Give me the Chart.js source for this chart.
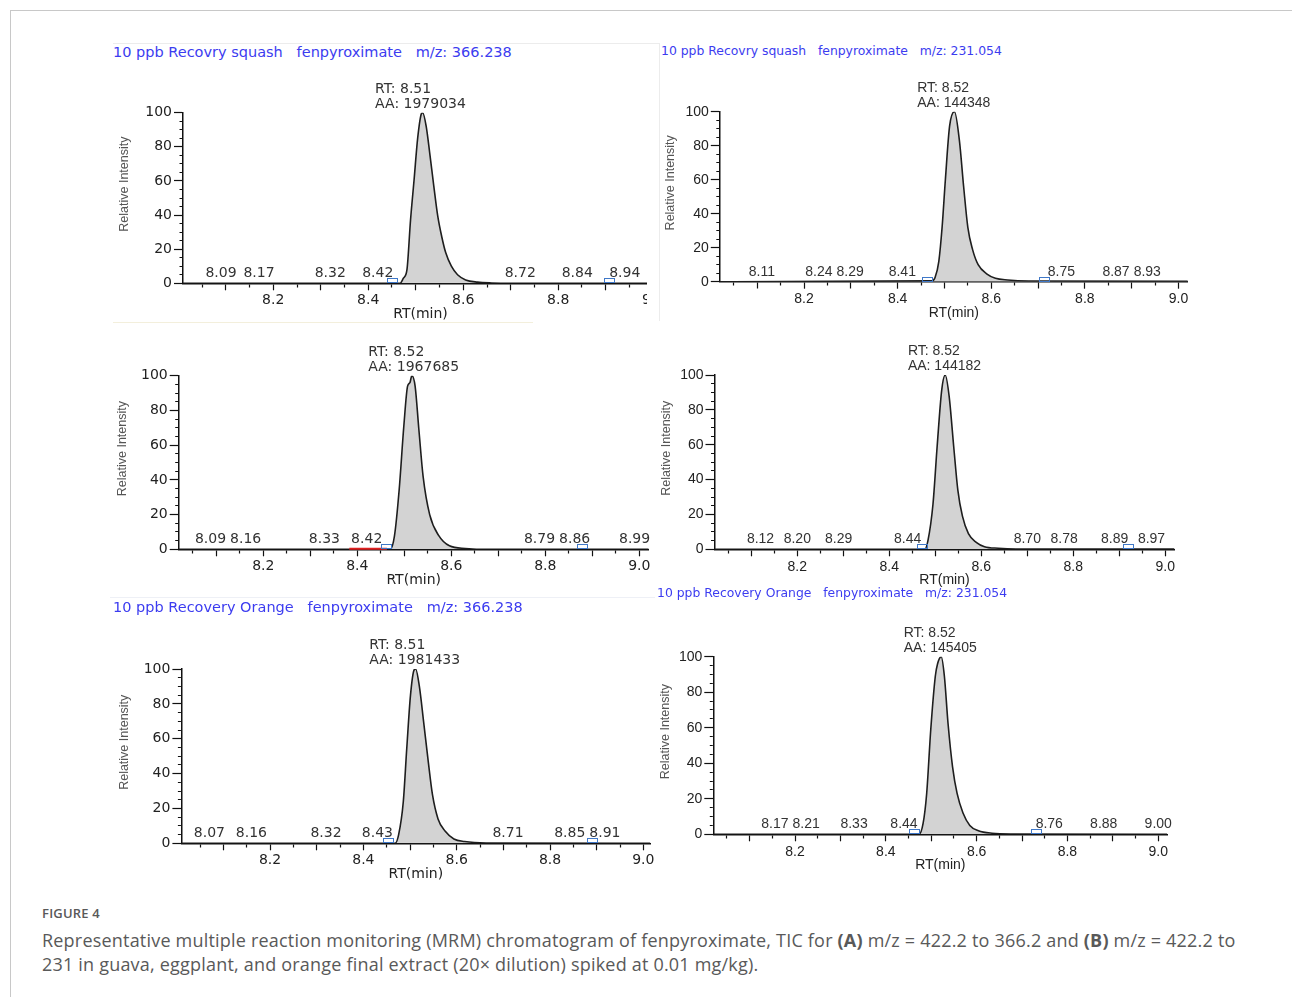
<!DOCTYPE html>
<html>
<head>
<meta charset="utf-8">
<script src="https://cdn.jsdelivr.net/npm/chart.js@4.4.1/dist/chart.umd.min.js"></script>
<style>
html,body{margin:0;padding:0;background:#fff;}
#page{position:relative;width:1292px;height:997px;overflow:hidden;background:#fff;}
.frame{position:absolute;left:10px;top:10px;width:1300px;height:1000px;border-top:1px solid #c8c8c8;border-left:1px solid #c8c8c8;}
.ttl{position:absolute;color:#3c3cf0;white-space:pre;line-height:1;font-family:'DejaVu Sans';}
.clip{position:absolute;left:0;top:0;overflow:hidden;}
.clip canvas{position:absolute;}
.faint{position:absolute;background:#ececec;}
.cap{position:absolute;left:42px;color:#595959;font-family:'Open Sans';white-space:nowrap;}
</style>
</head>
<body>
<div id="page">
<div class="frame"></div>
<div class="faint" style="left:113px;top:43px;width:547px;height:1px;"></div>
<div class="faint" style="left:659px;top:43px;width:1px;height:278px;"></div>
<div class="faint" style="left:113px;top:322px;width:420px;height:1px;background:#f3efdc;"></div>
<div class="faint" style="left:110px;top:597px;width:545px;height:1px;background:#eef0f6;"></div>
<div class="cap" style="top:905px;font-size:13px;line-height:16px;font-weight:600;letter-spacing:0.2px;">FIGURE 4</div>
<div class="cap" id="capText" style="top:928px;font-size:18px;line-height:24px;letter-spacing:0.2px;">Representative multiple reaction monitoring (MRM) chromatogram of fenpyroximate, TIC for <b>(A)</b> m/z = 422.2 to 366.2 and <b>(B)</b> m/z = 422.2 to<br>231 in guava, eggplant, and orange final extract (20× dilution) spiked at 0.01 mg/kg).</div>
</div>
<script>
// ---------------- data ----------------
const panelTitles = [
  '10 ppb Recovry squash   fenpyroximate   m/z: 366.238',
  '10 ppb Recovry squash   fenpyroximate   m/z: 231.054',
  '',
  '',
  '10 ppb Recovery Orange   fenpyroximate   m/z: 366.238',
  '10 ppb Recovery Orange   fenpyroximate   m/z: 231.054'
];
const xTickLabels = [8.2, 8.4, 8.6, 8.8, 9.0];
const yTickLabels = [0, 20, 40, 60, 80, 100];
const xMinorStep = 0.05;
const yMinorStep = 5;

// retention time (min) and relative intensity (%)
const squash366Rt  = [8.01, 8.467, 8.474, 8.4815, 8.489, 8.4966, 8.504, 8.512, 8.5145, 8.522, 8.530, 8.538, 8.546, 8.555, 8.563, 8.575, 8.588, 8.605, 8.630, 8.660, 8.700, 9.01];
const squash366Int = [0, 0, 3, 8, 37, 61, 85, 99.5, 100, 92, 75, 57, 40, 27, 18, 10, 5, 2, 0.7, 0.2, 0, 0];

const squash231Rt  = [8.02, 8.473, 8.480, 8.488, 8.495, 8.502, 8.511, 8.5215, 8.532, 8.541, 8.550, 8.560, 8.572, 8.591, 8.609, 8.635, 8.680, 9.02];
const squash231Int = [0, 0.5, 2.5, 12, 32, 60, 91.5, 100, 83, 56, 32, 19, 10, 4.5, 2, 1, 0.4, 0.2];

const middle366Rt  = [8.02, 8.470, 8.479, 8.489, 8.499, 8.507, 8.512, 8.516, 8.523, 8.531, 8.540, 8.554, 8.573, 8.596, 8.630, 8.680, 9.02];
const middle366Int = [0, 0, 7.6, 34, 71, 94, 96, 100, 94, 69, 42, 20, 8, 2, 0.5, 0, 0];

const middle231Rt  = [8.02, 8.477, 8.484, 8.495, 8.504, 8.514, 8.5215, 8.530, 8.540, 8.549, 8.559, 8.572, 8.589, 8.607, 8.637, 8.675, 9.02];
const middle231Int = [0, 0, 5, 26, 59, 91.5, 100, 88, 59, 34, 19, 9, 4, 1.5, 0.6, 0.2, 0.2];

const orange366Rt  = [8.01, 8.468, 8.4756, 8.4856, 8.493, 8.501, 8.5086, 8.512, 8.520, 8.529, 8.539, 8.548, 8.560, 8.575, 8.594, 8.617, 8.663, 9.015];
const orange366Int = [0, 0, 5, 24, 54.5, 85, 99.4, 100, 90, 70, 47, 28, 14, 7, 2.5, 1, 0.2, 0];

const orange231Rt  = [8.02, 8.473, 8.482, 8.490, 8.499, 8.509, 8.514, 8.522, 8.529, 8.537, 8.547, 8.557, 8.570, 8.585, 8.604, 8.634, 8.680, 9.02];
const orange231Int = [0, 0, 6, 23, 59, 89, 96, 100, 89, 62.5, 38, 23, 12, 5, 2, 0.6, 0.2, 0];

// main peak annotation
const peakRT   = [8.51, 8.52, 8.52, 8.52, 8.51, 8.52];
const peakArea = [1979034, 144348, 1967685, 144182, 1981433, 145405];

// small labelled baseline peaks
const squash366Labels = [8.09, 8.17, 8.32, 8.42, 8.72, 8.84, 8.94];
const squash231Labels = [8.11, 8.24, 8.29, 8.41, 8.75, 8.87, 8.93];
const middle366Labels = [8.09, 8.16, 8.33, 8.42, 8.79, 8.86, 8.99];
const middle231Labels = [8.12, 8.20, 8.29, 8.44, 8.70, 8.78, 8.89, 8.97];
const orange366Labels = [8.07, 8.16, 8.32, 8.43, 8.71, 8.85, 8.91];
const orange231Labels = [8.17, 8.21, 8.33, 8.44, 8.76, 8.88, 9.00];

// integration boundary markers
const squash366Bounds = [8.453, 8.908];
const squash231Bounds = [8.465, 8.714];
const middle366Bounds = [8.463, 8.880];
const middle231Bounds = [8.473, 8.921];
const orange366Bounds = [8.455, 8.893];
const orange231Bounds = [8.464, 8.734];
const middle366RedSegment = [8.383, 8.463];

const seriesRt  = [squash366Rt, squash231Rt, middle366Rt, middle231Rt, orange366Rt, orange231Rt];
const seriesInt = [squash366Int, squash231Int, middle366Int, middle231Int, orange366Int, orange231Int];
const seriesLabels = [squash366Labels, squash231Labels, middle366Labels, middle231Labels, orange366Labels, orange231Labels];
const seriesBounds = [squash366Bounds, squash231Bounds, middle366Bounds, middle231Bounds, orange366Bounds, orange231Bounds];
const seriesRed = [null, null, middle366RedSegment, null, null, null];
const xRanges = [[8.01, 9.01], [8.02, 9.02], [8.02, 9.02], [8.02, 9.02], [8.01, 9.015], [8.02, 9.02]];

// ---------------- layout (page pixels) ----------------
const geom = [
  {L:183.0, k:475,   T:112.7, B:283.3, yt:124,   clipR:647, clipB:997, style:'left',  tx:113, ty:45.1, tf:14.5},
  {L:719.8, k:468,   T:111.7, B:281.7, yt:670,   clipR:1292, clipB:997, style:'right', tx:661, ty:45.1, tf:12.4},
  {L:178.7, k:470,   T:375.7, B:549.3, yt:122,   clipR:1292, clipB:589, style:'left'},
  {L:714.5, k:460,   T:375.0, B:549.3, yt:666,   clipR:1292, clipB:997, style:'right'},
  {L:181.4, k:466.6, T:669.0, B:843.3, yt:124,   clipR:1292, clipB:997, style:'left',  tx:113, ty:600.1, tf:14.5},
  {L:713.3, k:454,   T:656.7, B:834.3, yt:665.5, clipR:1292, clipB:997, style:'right', tx:657, ty:587.1, tf:12.4}
];
const fonts = {
  left:  {family:"'DejaVu Sans'", size:14},
  right: {family:"'Liberation Sans'", size:14}
};
const yTitleFont = {family:"'Liberation Sans'", size:12.5};

function inList(v, list){ return list.some(m => Math.abs(m - v) < 1e-6); }
function buildTicks(min, max, step){
  const out = [];
  for (let k = Math.ceil(min/step - 1e-9); k*step <= max + 1e-9; k++) out.push({value: +(k*step).toFixed(4)});
  return out;
}

function makeAnnot(i){
  return {
    id: 'annot' + i,
    afterDatasetsDraw(chart){
      const {ctx} = chart;
      const x = chart.scales.x, y = chart.scales.y;
      const f = fonts[geom[i].style];
      const y0 = y.getPixelForValue(0);
      const yTop = y.getPixelForValue(100);
      ctx.save();
      const red = seriesRed[i];
      if (red){
        ctx.strokeStyle = '#e02020'; ctx.lineWidth = 2;
        ctx.beginPath(); ctx.moveTo(x.getPixelForValue(red[0]), y0 - 0.5); ctx.lineTo(x.getPixelForValue(red[1]), y0 - 0.5); ctx.stroke();
      }
      ctx.strokeStyle = '#3f78c8'; ctx.lineWidth = 1;
      seriesBounds[i].forEach(v => {
        const px = Math.round(x.getPixelForValue(v));
        ctx.strokeRect(px - 5.5, Math.round(y0) - 4.5, 10, 4);
      });
      ctx.font = f.size + 'px ' + f.family;
      ctx.fillStyle = '#333';
      ctx.textAlign = 'center';
      ctx.textBaseline = 'alphabetic';
      const labs = seriesLabels[i];
      const txt = labs.map(v => v.toFixed(2));
      const w = txt.map(t => ctx.measureText(t).width);
      const xs = labs.map(v => x.getPixelForValue(v));
      for (let j = 1; j < xs.length; j++){
        const need = (w[j-1] + w[j]) / 2 + 4;
        const gap = xs[j] - xs[j-1];
        if (gap < need){ const d = need - gap; xs[j-1] -= d/2; xs[j] += d/2; }
      }
      txt.forEach((t, j) => ctx.fillText(t, xs[j], y0 - 6));
      const l1 = 'RT: ' + peakRT[i].toFixed(2);
      const l2 = 'AA: ' + peakArea[i];
      const bw = Math.max(ctx.measureText(l1).width, ctx.measureText(l2).width);
      const x0 = x.getPixelForValue(peakRT[i]) - bw/2;
      ctx.textAlign = 'left';
      ctx.fillText(l1, x0, yTop - 20);
      ctx.fillText(l2, x0, yTop - 5);
      ctx.restore();
    }
  };
}

const page = document.getElementById('page');
geom.forEach((g, i) => {
  const [xmin, xmax] = xRanges[i];
  const R = g.L + (xmax - xmin) * g.k;
  const left = Math.round(g.yt - 7.5);
  const top = Math.round(g.T - 40);
  const width = Math.round(R + 20 - left);
  const height = Math.round(g.B + 40 - top);
  const padTop = g.T - top;
  const padRight = left + width - R;
  const yW = g.L - left;
  const xH = height - (g.B - top);
  const f = fonts[g.style];

  if (panelTitles[i]){
    const t = document.createElement('div');
    t.className = 'ttl';
    t.style.left = g.tx + 'px'; t.style.top = g.ty + 'px'; t.style.fontSize = g.tf + 'px';
    t.textContent = panelTitles[i];
    page.appendChild(t);
  }
  const clip = document.createElement('div');
  clip.className = 'clip';
  clip.style.width = g.clipR + 'px';
  clip.style.height = g.clipB + 'px';
  const cv = document.createElement('canvas');
  cv.width = width; cv.height = height;
  cv.style.left = left + 'px'; cv.style.top = top + 'px';
  cv.style.width = width + 'px'; cv.style.height = height + 'px';
  clip.appendChild(cv);
  page.appendChild(clip);

  const pts = seriesRt[i].map((v, j) => ({x: v, y: seriesInt[i][j]}));
  new Chart(cv.getContext('2d'), {
    type: 'line',
    data: {datasets: [{
      data: pts,
      borderColor: '#1e1e1e', borderWidth: 1.6,
      backgroundColor: '#d3d3d3', fill: 'origin',
      pointRadius: 0, cubicInterpolationMode: 'monotone'
    }]},
    plugins: [makeAnnot(i)],
    options: {
      responsive: false, animation: false, devicePixelRatio: 1, events: [],
      layout: {padding: {left: 0, right: padRight, top: padTop, bottom: 0}},
      plugins: {legend: {display: false}, tooltip: {enabled: false}, title: {display: false}},
      scales: {
        x: {
          type: 'linear', position: 'bottom', min: xmin, max: xmax, bounds: 'data',
          afterBuildTicks: s => { s.ticks = buildTicks(xmin, xmax, xMinorStep); },
          afterFit: s => { s.height = xH; },
          ticks: {autoSkip: false, maxRotation: 0, minRotation: 0, padding: 2, color: '#222', font: f,
                  callback: v => inList(v, xTickLabels) ? v.toFixed(1) : ''},
          grid: {drawOnChartArea: false, drawTicks: true, tickLength: 7, tickWidth: 1.2, tickColor: '#111',
                 tickBorderDash: c => {
                   const v = c.tick ? c.tick.value : 0;
                   if (inList(v, xTickLabels)) return [];
                   if (Math.abs(v*10 - Math.round(v*10)) < 1e-6) return [6, 50];
                   return [3, 50];
                 }},
          border: {display: true, color: '#111', width: 1.5},
          title: {display: true, text: 'RT(min)', color: '#222', font: f, padding: {top: 0, bottom: 0}}
        },
        y: {
          type: 'linear', position: 'left', min: 0, max: 100, bounds: 'data',
          afterBuildTicks: s => { s.ticks = buildTicks(0, 100, yMinorStep); },
          afterFit: s => { s.width = yW; },
          ticks: {autoSkip: false, padding: 2, color: '#222', font: f,
                  callback: v => inList(v, yTickLabels) ? String(v) : ''},
          grid: {drawOnChartArea: false, drawTicks: true, tickLength: 9, tickWidth: 1.2, tickColor: '#111',
                 tickBorderDash: c => {
                   const v = c.tick ? c.tick.value : 0;
                   return inList(v, yTickLabels) ? [] : [0, 5.5, 3, 50];
                 }},
          border: {display: true, color: '#111', width: 1.5},
          title: {display: true, text: '        Relative Intensity', color: '#555', font: yTitleFont, padding: {top: 0, bottom: 0}}
        }
      }
    }
  });
});
</script>
</body>
</html>
